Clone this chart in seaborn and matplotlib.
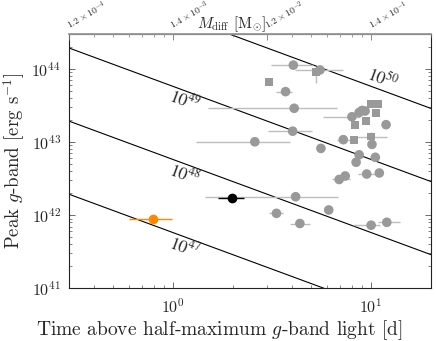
import numpy as np
import pandas as pd
import matplotlib
matplotlib.use("Agg")
import matplotlib.pyplot as plt
from matplotlib import ticker
import seaborn as sns

# grey sample: time above half max [d], peak g-band luminosity [erg/s]
t_grey = [4.05, 5.52, 3.70, 4.09, 8.7, 9.0, 9.33, 8.0, 11.9, 4.02, 2.59, 7.24, 10.1, 5.58,
          8.7, 10.5, 8.4, 9.5, 11.0, 7.4, 6.9, 4.16, 3.33, 4.37, 6.11, 10.0, 12.0,
          5.25, 3.05, 9.96, 10.8, 10.6, 9.47, 8.33, 8.17, 10.0]
L_grey = [1.13e44, 9.7e43, 4.9e43, 2.9e43, 2.54e43, 2.71e43, 2.66e43, 2.22e43, 1.73e43, 1.41e43,
          1.01e43, 1.08e43, 9.3e42, 8.2e42, 6.7e42, 6.2e42, 5.3e42, 3.66e42, 3.78e42, 3.44e42,
          3.08e42, 1.79e42, 1.06e42, 7.7e41, 1.18e42, 7.3e41, 8.0e41,
          9.2e43, 6.7e43, 3.32e43, 3.32e43, 2.48e43, 1.96e43, 1.70e43, 1.07e43, 1.19e43]
t_lo = [3.11, 4.13, 3.33, 1.50, None, None, None, 5.7, None, 3.02, 1.30, 6.73, None, None,
        None, None, None, 8.6, None, None, 6.35, 1.45, 3.06, 3.89, None, 8.1, 10.85,
        None, None, None, None, 10.2, None, None, None, 8.47]
t_hi = [5.09, 7.24, 3.97, 6.70, None, None, None, 8.8, None, 5.01, 3.89, 7.83, None, None,
        None, None, None, 10.5, None, None, 7.83, 6.81, 3.60, 4.91, None, 11.1, 14.0,
        None, None, None, None, 11.0, None, None, None, 12.0]
L_lo = [None] * 27 + [6.4e43] + [None] * 7 + [1.0e43]
L_hi = [None] * 27 + [1.07e44] + [None] * 7 + [1.37e43]
kind = ["circle"] * 27 + ["square"] * 9

# highlighted events
t_black, L_black, t_black_err = 1.99, 1.70e42, (1.69, 2.28)
t_orange, L_orange, t_orange_err = 0.79, 8.9e41, (0.60, 0.99)

# constant radiated energy lines
energies = [1e47, 1e48, 1e49, 1e50]
energy_labels = [r"$\mathit{10^{47}}$", r"$\mathit{10^{48}}$", r"$\mathit{10^{49}}$", r"$\mathit{10^{50}}$"]
label_t = [1.15, 1.15, 1.15, 11.5]
label_off = [-7, -7, -6.5, 9.5]
sec_factor = 2 * 86400

# top axis (diffusion mass)
top_ticks = [0.3, 1, 3, 10]
top_labels = [r"$1.2\times10^{-4}$", r"$1.4\times10^{-3}$", r"$1.2\times10^{-2}$", r"$1.4\times10^{-1}$"]

df = pd.DataFrame({"t": t_grey, "L": L_grey, "t_lo": t_lo, "t_hi": t_hi,
                   "L_lo": L_lo, "L_hi": L_hi, "kind": kind}).astype(
    {"t_lo": float, "t_hi": float, "L_lo": float, "L_hi": float})

sns.set_style("ticks")
plt.rcParams.update({
    "font.family": "serif",
    "font.serif": ["cmr10", "DejaVu Serif"],
    "mathtext.fontset": "cm",
    "axes.formatter.use_mathtext": True,
})

fig = plt.figure(figsize=(4.36, 3.41), dpi=100)
ax = fig.add_axes([0.159, 0.1545, 0.988 - 0.159, 0.900 - 0.1545])
ax.set_xscale("log")
ax.set_yscale("log")
ax.set_xlim(0.3, 20)
ax.set_ylim(1e41, 3e44)

# energy lines
t_line = np.array([0.3, 20.0])
for E in energies:
    sns.lineplot(x=t_line, y=E / (t_line * sec_factor), color="black", lw=0.8, ax=ax)

p0 = ax.transData.transform((1, 1e44))
p1 = ax.transData.transform((10, 1e43))
angle = np.degrees(np.arctan2(p1[1] - p0[1], p1[0] - p0[0]))
for E, lab, tl, off in zip(energies, energy_labels, label_t, label_off):
    ax.annotate(lab, xy=(tl, E / (tl * sec_factor)), xytext=(0, off), textcoords="offset points",
                ha="center", va="center", rotation=angle, fontsize=12.5, math_fontfamily="stix")

# error bars
xerr = [(df["t"] - df["t_lo"]).values, (df["t_hi"] - df["t"]).values]
ax.errorbar(df["t"], df["L"], xerr=xerr, fmt="none", ecolor="#bdbdbd", elinewidth=1, zorder=2)
yerr = [(df["L"] - df["L_lo"]).values, (df["L_hi"] - df["L"]).values]
ax.errorbar(df["t"], df["L"], yerr=yerr, fmt="none", ecolor="#bdbdbd", elinewidth=1, zorder=2)

sns.scatterplot(data=df, x="t", y="L", style="kind", size="kind",
                markers={"circle": "o", "square": "s"}, sizes={"circle": 48, "square": 32},
                color="#999999", edgecolor="none", legend=False, zorder=3, ax=ax)

ax.errorbar([t_black], [L_black], xerr=[[t_black - t_black_err[0]], [t_black_err[1] - t_black]],
            fmt="o", color="black", ms=7, mec="none", elinewidth=1, zorder=4)
ax.errorbar([t_orange], [L_orange], xerr=[[t_orange - t_orange_err[0]], [t_orange_err[1] - t_orange]],
            fmt="o", color="#ff8800", ms=7, mec="none", elinewidth=1, zorder=4)

ax.set_xlabel("Time above half-maximum $g$-band light [d]", fontsize=14)
ax.set_ylabel("Peak $g$-band [erg s$^{-1}$]", fontsize=13.5)
ax.xaxis.set_label_coords(0.414, -0.118)
ax.yaxis.set_label_coords(-0.118, 0.5)
ax.xaxis.set_minor_formatter(ticker.NullFormatter())
ax.tick_params(which="both", direction="in", top=False, right=True, labelsize=11.5, color="#555555")
ax.tick_params(axis="x", pad=6)
ax.tick_params(axis="y", pad=6)
ax.tick_params(which="major", length=4, width=0.6)
ax.tick_params(which="minor", length=2, width=0.5)
for s in ax.spines.values():
    s.set_linewidth(0.8)
    s.set_color("#222222")

ax2 = ax.twiny()
ax2.set_xscale("log")
ax2.set_xlim(ax.get_xlim())
ax2.set_xticks(top_ticks)
ax2.xaxis.set_major_formatter(ticker.NullFormatter())
ax2.xaxis.set_minor_formatter(ticker.NullFormatter())
ax2.tick_params(which="both", direction="in", color="#777777")
ax2.tick_params(which="major", length=4, width=0.6)
ax2.tick_params(which="minor", length=2, width=0.5)
for name, s in ax2.spines.items():
    s.set_visible(name == "top")
ax2.spines["top"].set_color("#999999")
ax2.spines["top"].set_linewidth(1.3)

top_tr = ax2.get_xaxis_transform()
for tt, lab in zip(top_ticks, top_labels):
    ax2.text(tt, 1.016, lab, transform=top_tr, rotation=30, rotation_mode="anchor",
             ha="left", va="baseline", fontsize=7)
ax2.text(0.45, 1.024, r"$M_{\rm diff}$ [M$_{\odot}$]", transform=ax2.transAxes,
         ha="center", va="baseline", fontsize=11)

fig.savefig("out.png", dpi=100)
